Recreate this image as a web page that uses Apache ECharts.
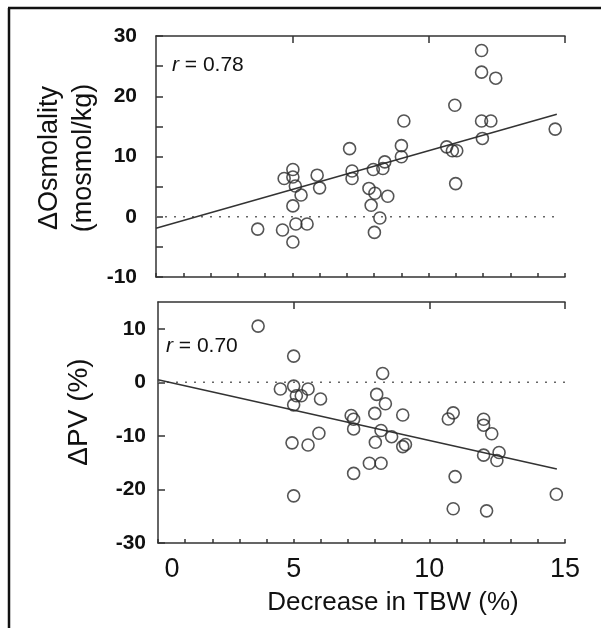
<!DOCTYPE html>
<html><head><meta charset="utf-8">
<script src="https://cdn.jsdelivr.net/npm/echarts@6/dist/echarts.min.js"></script>
<style>html,body{margin:0;padding:0;background:#fff}#c{width:601px;height:628px}</style>
</head><body><div id="c"></div>
<script>
// ---- Data ----
const osmX = [3.73, 4.64, 4.70, 5.02, 5.02, 5.02, 5.02, 5.11, 5.13, 5.32, 5.54, 5.91, 6.00,
  7.10, 7.19, 7.19, 7.81, 7.89, 7.97, 8.01, 8.03, 8.21, 8.32, 8.39, 8.50, 9.00, 9.00, 9.09,
  10.66, 10.87, 11.03, 10.96, 10.99, 11.94, 11.94, 12.46, 11.94, 12.28, 11.97, 14.64];
const osmY = [-2.05, -2.2, 6.35, 7.85, 6.6, 1.8, -4.2, 5.1, -1.2, 3.6, -1.2, 6.9, 4.8,
  11.3, 7.6, 6.35, 4.7, 1.9, 7.85, -2.6, 3.9, -0.2, 8.0, 9.1, 3.4, 11.8, 9.95, 15.9,
  11.6, 10.95, 10.95, 18.5, 5.5, 27.6, 24.0, 23.0, 15.9, 15.9, 13.0, 14.55];

const pvX = [3.69, 5.00, 8.28, 4.51, 5.00, 5.53, 5.28, 5.10, 5.00, 5.99, 8.06, 8.38, 7.99,
  9.02, 7.12, 7.21, 7.21, 8.22, 5.93, 8.61, 4.94, 5.53, 8.01, 9.02, 9.12, 7.79, 8.22, 7.21,
  5.00, 10.70, 10.88, 12.00, 12.00, 12.30, 12.00, 12.57, 12.49, 10.95, 10.88, 12.11, 14.68];
const pvY = [10.5, 4.9, 1.66, -1.25, -0.7, -1.25, -2.5, -2.5, -4.2, -3.1, -2.25, -4.0, -5.8,
  -6.1, -6.2, -6.9, -8.7, -9.0, -9.5, -10.15, -11.3, -11.7, -11.2, -12.0, -11.6, -15.1, -15.1, -17.0,
  -21.2, -6.85, -5.7, -6.9, -8.0, -9.6, -13.6, -13.1, -14.6, -17.6, -23.6, -24.0, -20.9];

const osmFitX = [0, 14.7];
const osmFitY = [-1.9, 17.0];
const pvFitX = [0, 14.7];
const pvFitY = [0.5, -16.2];
const osmZeroX = [0, 14.6];
const pvZeroX = [0, 15];

const xLabelTicks = [0, 5, 10, 15];
const xMinorTicks = [0, 1, 2, 3, 4, 5, 6, 7, 8, 9, 10, 11, 12, 13, 14, 15];
const xMajorTicks = [5, 10, 15];
const osmTicks = [-10, -5, 0, 5, 10, 15, 20, 25, 30];
const osmLabels = [-10, 0, 10, 20, 30];
const pvTicks = [-30, -20, -10, 0, 10];
const pvLabels = [-30, -20, -10, 0, 10];

const rOsm = '0.78';
const rPv = '0.70';
const yNameOsm = ['\u0394Osmolality', '(mosmol/kg)'];
const yNamePv = '\u0394PV (%)';
const xName = 'Decrease in TBW (%)';

// ---- Build ----
const pairs = (xs, ys) => xs.map((x, i) => [x, ys[i]]);
const FONT = '"Liberation Sans", Arial, Helvetica, sans-serif';
const AX = '#333';

function xAxisDef(grid, tickVals, len, labels) {
  return {
    type: 'value', gridIndex: grid, min: 0, max: 15,
    axisLine: { show: true, onZero: false, lineStyle: { color: AX, width: 1.5 } },
    axisTick: { show: true, inside: true, length: len, customValues: tickVals, lineStyle: { color: AX, width: 1.5 } },
    axisLabel: labels ? {
      show: true, customValues: xLabelTicks, margin: 13, color: '#111', fontFamily: FONT, fontSize: 27,
      formatter: v => v === 0 ? '{z|0}' : String(v),
      rich: { z: { fontFamily: FONT, fontSize: 27, color: '#111', padding: [0, 0, 0, 28] } }
    } : { show: false },
    splitLine: { show: false }
  };
}
function yAxisDef(grid, min, max, ticks, labels, margin) {
  return {
    type: 'value', gridIndex: grid, min: min, max: max,
    axisLine: { show: true, onZero: false, lineStyle: { color: AX, width: 1.5 } },
    axisTick: { show: true, inside: true, length: 7, customValues: ticks, lineStyle: { color: AX, width: 1.5 } },
    axisLabel: { show: true, customValues: labels, margin: margin, color: '#111', fontFamily: FONT, fontSize: 21, fontWeight: 'bold' },
    splitLine: { show: false }
  };
}

const scatterStyle = {
  type: 'scatter', symbol: 'circle', symbolSize: 12,
  itemStyle: { color: 'rgba(0,0,0,0)', borderColor: '#2a2a2a', borderWidth: 1.6 },
  z: 5, silent: true
};
const fitStyle = { type: 'line', symbol: 'none', lineStyle: { color: '#333', width: 1.5 }, silent: true, z: 3 };
const zeroStyle = { type: 'line', symbol: 'none', lineStyle: { color: '#666', width: 1.5, type: [2, 7] }, silent: true, z: 2 };

const option = {
  animation: false,
  backgroundColor: '#fff',
  grid: [
    { left: 156, right: 36, top: 36, height: 241 },
    { left: 158, right: 36, top: 302, height: 241 }
  ],
  xAxis: [
    xAxisDef(0, xMinorTicks, 4, false),
    xAxisDef(0, xMajorTicks, 7, false),
    xAxisDef(1, xMinorTicks, 4, true),
    xAxisDef(1, xMajorTicks, 7, false)
  ],
  yAxis: [
    yAxisDef(0, -10, 30, osmTicks, osmLabels, 19),
    yAxisDef(1, -30, 15, pvTicks, pvLabels, 12)
  ],
  series: [
    Object.assign({}, zeroStyle, { xAxisIndex: 0, yAxisIndex: 0, data: pairs(osmZeroX, [0, 0]) }),
    Object.assign({}, fitStyle, { xAxisIndex: 0, yAxisIndex: 0, data: pairs(osmFitX, osmFitY) }),
    Object.assign({}, scatterStyle, { xAxisIndex: 0, yAxisIndex: 0, data: pairs(osmX, osmY) }),
    Object.assign({}, zeroStyle, { xAxisIndex: 2, yAxisIndex: 1, data: pairs(pvZeroX, [0, 0]) }),
    Object.assign({}, fitStyle, { xAxisIndex: 2, yAxisIndex: 1, data: pairs(pvFitX, pvFitY) }),
    Object.assign({}, scatterStyle, { xAxisIndex: 2, yAxisIndex: 1, data: pairs(pvX, pvY) })
  ],
  graphic: [
    { type: 'line', shape: { x1: 9, y1: 8, x2: 9, y2: 628 }, style: { stroke: '#111', lineWidth: 2.5 } },
    { type: 'line', shape: { x1: 8, y1: 8, x2: 601, y2: 8 }, style: { stroke: '#111', lineWidth: 2.5 } },
    { type: 'text', x: 50, y: 158, rotation: Math.PI / 2,
      style: { text: yNameOsm[0], font: '27px ' + FONT, fill: '#111', textAlign: 'center', textVerticalAlign: 'middle' } },
    { type: 'text', x: 84, y: 158, rotation: Math.PI / 2,
      style: { text: yNameOsm[1], font: '27px ' + FONT, fill: '#111', textAlign: 'center', textVerticalAlign: 'middle' } },
    { type: 'text', x: 79, y: 412, rotation: Math.PI / 2,
      style: { text: yNamePv, font: '28px ' + FONT, fill: '#111', textAlign: 'center', textVerticalAlign: 'middle' } },
    { type: 'text', x: 393, y: 603,
      style: { text: xName, font: '26px ' + FONT, fill: '#111', textAlign: 'center', textVerticalAlign: 'middle' } },
    { type: 'text', x: 172, y: 65,
      style: { text: '{i|r} = ' + rOsm, font: '21px ' + FONT, fill: '#111', textAlign: 'left', textVerticalAlign: 'middle',
        rich: { i: { fontStyle: 'italic', fontFamily: FONT, fontSize: 21, fill: '#111' } } } },
    { type: 'text', x: 166, y: 346,
      style: { text: '{i|r} = ' + rPv, font: '21px ' + FONT, fill: '#111', textAlign: 'left', textVerticalAlign: 'middle',
        rich: { i: { fontStyle: 'italic', fontFamily: FONT, fontSize: 21, fill: '#111' } } } }
  ]
};
const chart = echarts.init(document.getElementById('c'), null, { renderer: 'canvas' });
chart.setOption(option);
</script>
</body></html>
